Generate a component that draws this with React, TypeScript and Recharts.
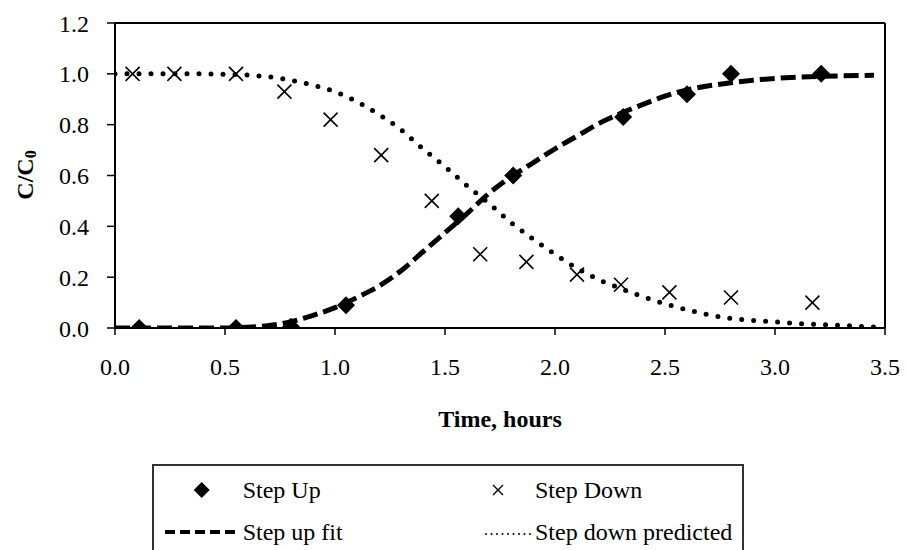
import { ComposedChart, Line, Scatter, XAxis, YAxis, ReferenceLine } from "recharts";

const stepUpTime = [0.11, 0.55, 0.8, 1.05, 1.56, 1.81, 2.31, 2.6, 2.8, 3.21];
const stepUpC = [0, 0, 0.005, 0.09, 0.44, 0.6, 0.83, 0.92, 1.0, 1.0];

const stepDownTime = [0.08, 0.27, 0.55, 0.77, 0.98, 1.21, 1.44, 1.66, 1.87, 2.1, 2.3, 2.52, 2.8, 3.17];
const stepDownC = [1.0, 1.0, 1.0, 0.93, 0.82, 0.68, 0.5, 0.29, 0.26, 0.21, 0.17, 0.14, 0.12, 0.1];

const curveTime = [
  0, 0.1, 0.2, 0.3, 0.4, 0.5, 0.6, 0.7, 0.8, 0.9, 1.0, 1.1, 1.2, 1.3, 1.4, 1.5, 1.6, 1.7,
  1.8, 1.9, 2.0, 2.1, 2.2, 2.3, 2.4, 2.5, 2.6, 2.7, 2.8, 2.9, 3.0, 3.1, 3.2, 3.3, 3.45,
];
const stepUpFit = [
  0, 0, 0, 0, 0, 0, 0.003, 0.01, 0.025, 0.05, 0.08, 0.12, 0.165, 0.225, 0.3, 0.375, 0.45, 0.53,
  0.595, 0.65, 0.705, 0.755, 0.805, 0.845, 0.88, 0.912, 0.937, 0.953, 0.965, 0.975, 0.982, 0.987, 0.99, 0.992, 0.994,
];
const stepDownPredicted = [
  1, 1, 1, 1, 1, 0.998, 0.995, 0.988, 0.975, 0.955, 0.93, 0.89, 0.84, 0.78, 0.705, 0.635, 0.56, 0.49,
  0.415, 0.35, 0.29, 0.235, 0.19, 0.155, 0.123, 0.095, 0.072, 0.052, 0.038, 0.03, 0.024, 0.018, 0.014, 0.01, 0.004,
];

const xTicks = [0, 0.5, 1, 1.5, 2, 2.5, 3, 3.5];
const yTicks = [0, 0.2, 0.4, 0.6, 0.8, 1.0, 1.2];

const FONT = "'Liberation Serif', 'Times New Roman', serif";

const toPoints = (xs: number[], ys: number[]) => xs.map((x, i) => ({ x, y: ys[i] }));

const stepUpData = toPoints(stepUpTime, stepUpC);
const stepDownData = toPoints(stepDownTime, stepDownC);
const fitData = toPoints(curveTime, stepUpFit);
const predictedData = toPoints(curveTime, stepDownPredicted);

function Diamond(props: any) {
  const { cx, cy } = props;
  if (cx == null || cy == null) return null;
  const r = 9;
  return <polygon points={`${cx},${cy - r} ${cx + r},${cy} ${cx},${cy + r} ${cx - r},${cy}`} fill="#000" />;
}

function Cross(props: any) {
  const { cx, cy } = props;
  if (cx == null || cy == null) return null;
  const r = 7;
  return (
    <path
      d={`M${cx - r},${cy - r}L${cx + r},${cy + r}M${cx + r},${cy - r}L${cx - r},${cy + r}`}
      stroke="#000"
      strokeWidth={1.6}
      fill="none"
    />
  );
}

function ChartLegend() {
  const text = { fontFamily: FONT, fontSize: 24, fill: "#000" };
  return (
    <svg width={592} height={86} style={{ position: "absolute", left: 152, top: 464 }}>
      <path d="M1,86V1H591V86" stroke="#333" strokeWidth={2} fill="none" />
      <polygon points="49.7,18 57.7,26 49.7,34 41.7,26" fill="#000" />
      <text x={90.7} y={26} dominantBaseline="central" {...text}>Step Up</text>
      <path d="M341,21L351,31M351,21L341,31" stroke="#000" strokeWidth={1.4} />
      <text x={383} y={26} dominantBaseline="central" {...text}>Step Down</text>
      <line x1={13} y1={68} x2={85} y2={68} stroke="#000" strokeWidth={4} strokeDasharray="10 5" />
      <text x={90.7} y={68} dominantBaseline="central" {...text}>Step up fit</text>
      <line x1={334} y1={70} x2={380} y2={70} stroke="#000" strokeWidth={2} strokeLinecap="round" strokeDasharray="0 5.5" />
      <text x={383} y={68} dominantBaseline="central" {...text}>Step down predicted</text>
    </svg>
  );
}

export default function App() {
  const tickStyle = { fontFamily: FONT, fontSize: 24, fill: "#000" };
  return (
    <div style={{ position: "absolute", left: 0, top: 0, width: 906, height: 550, background: "#fff" }}>
      <ComposedChart width={906} height={440} margin={{ top: 23, right: 21, bottom: 0, left: 0 }}>
        <XAxis
          type="number"
          dataKey="x"
          domain={[0, 3.5]}
          ticks={xTicks}
          tickFormatter={(v: number) => v.toFixed(1)}
          height={112}
          axisLine={{ stroke: "#000", strokeWidth: 2 }}
          tickLine={{ stroke: "#000", strokeWidth: 1.5 }}
          tickSize={7}
          tickMargin={23}
          tick={tickStyle}
          allowDataOverflow
          label={{
            value: "Time, hours",
            position: "insideBottom",
            offset: 13,
            style: { fontFamily: FONT, fontSize: 24, fontWeight: "bold", fill: "#000" },
          }}
        />
        <YAxis
          type="number"
          domain={[0, 1.2]}
          ticks={yTicks}
          tickFormatter={(v: number) => v.toFixed(1)}
          width={115}
          axisLine={{ stroke: "#000", strokeWidth: 2 }}
          tickLine={{ stroke: "#000", strokeWidth: 1.5 }}
          tickSize={8}
          tickMargin={18}
          tick={tickStyle}
          allowDataOverflow
          label={{
            content: () => (
              <text
                x={25}
                y={175}
                transform="rotate(-90 25 175)"
                textAnchor="middle"
                dominantBaseline="central"
                style={{ fontFamily: FONT, fontSize: 24, fontWeight: "bold", fill: "#000" }}
              >
                C/C
                <tspan fontSize={16} dy={5}>0</tspan>
              </text>
            ),
          }}
        />
        <ReferenceLine y={1.2} stroke="#000" strokeWidth={2} />
        <ReferenceLine x={3.5} stroke="#000" strokeWidth={2} />
        <Line
          data={predictedData}
          dataKey="y"
          type="monotone"
          stroke="#000"
          strokeWidth={5}
          strokeLinecap="round"
          strokeDasharray="0 12"
          dot={false}
          activeDot={false}
          isAnimationActive={false}
        />
        <Line
          data={fitData}
          dataKey="y"
          type="monotone"
          stroke="#000"
          strokeWidth={5}
          strokeDasharray="15 6"
          dot={false}
          activeDot={false}
          isAnimationActive={false}
        />
        <Scatter data={stepDownData} dataKey="y" shape={Cross} isAnimationActive={false} />
        <Scatter data={stepUpData} dataKey="y" shape={Diamond} isAnimationActive={false} />
      </ComposedChart>
      <ChartLegend />
    </div>
  );
}
